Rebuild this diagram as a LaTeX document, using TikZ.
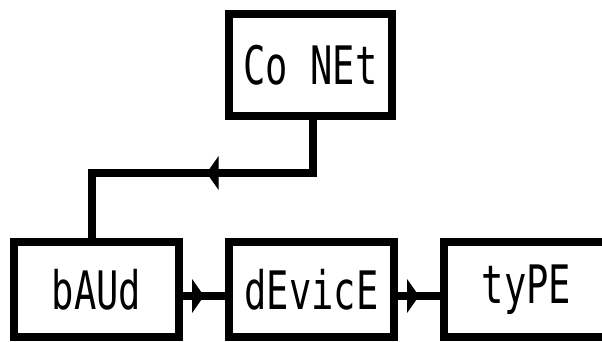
\documentclass[tikz,border=0pt]{standalone}
\usepackage{graphicx}
\usepackage{fontspec}
\setmonofont{DejaVu Sans Mono}
\usetikzlibrary{arrows.meta,positioning,decorations.markings}
\newcommand{\lcd}[1]{\scalebox{0.7}[1]{#1}}

\begin{document}
\begin{tikzpicture}[x=1pt,y=1pt,node distance=42pt,font=\fontsize{53}{53}\selectfont\ttfamily,
    flow/.style={line width=8pt,postaction={decorate},
      decoration={markings,mark=at position #1 with {\arrow[line width=1pt]{Triangle[length=12pt,width=34pt]}}}},
    flow/.default=0.5]
  \tikzstyle{box}=[draw,line width=8pt,minimum width=165pt,minimum height=95pt,inner sep=0pt]
  \clip (0,0) rectangle (602,342);
  \node[box,minimum width=163pt,minimum height=102pt] (conet) at (310.5,277) {\lcd{Co NEt}};
  \node[box] (baud) at (96.5,52.5) {\lcd{bAUd}};
  \node[box,right=of baud] (device) {\lcd{dEvicE}};
  \node[box,right=of device] (type) {\lcd{tyPE}};
  % return path from the top box
  \draw[flow=0.47] ([xshift=2.5pt]conet.south) -- ++(0,-53) -| ([xshift=-4.5pt]baud.north);
  % chain along the bottom row
  \draw[flow] ([yshift=-6.5pt]baud.east) -- ([yshift=-6.5pt]device.west);
  \draw[flow] ([yshift=-6.5pt]device.east) -- ([yshift=-6.5pt]type.west);
\end{tikzpicture}
\end{document}
